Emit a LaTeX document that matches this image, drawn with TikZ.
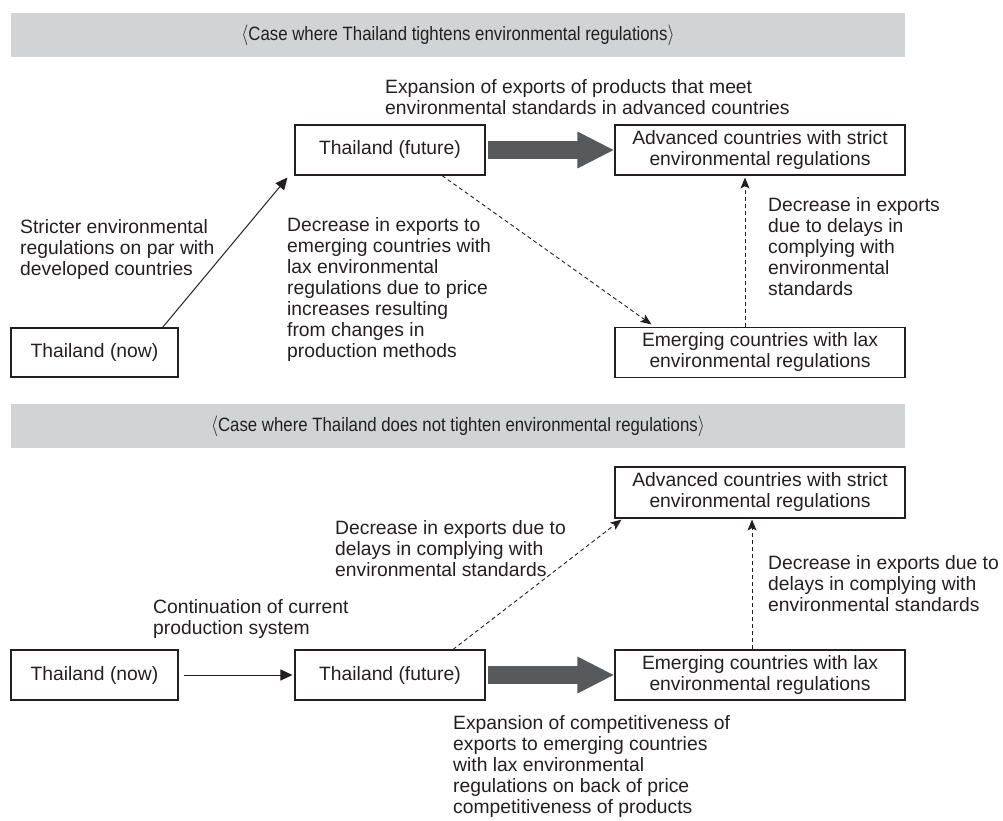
\documentclass[tikz,border=0pt]{standalone}
\usepackage{graphicx}
\usepackage{fontspec}
\setmainfont{Liberation Sans}
\usetikzlibrary{arrows.meta,calc}
\definecolor{txt}{HTML}{231F20}
\definecolor{hdr}{HTML}{D1D3D4}
\definecolor{thk}{HTML}{58595B}
\newcommand{\fs}{\fontsize{19.3}{21}\selectfont}
\newcommand{\hdrtext}[1]{\scalebox{0.87}[1]{$\langle$#1$\rangle$}}
\tikzset{
 box/.style={draw=txt, line width=1.1pt, minimum height=50pt, inner sep=0pt, align=center, text=txt, font=\fs},
 hdrbar/.style={fill=hdr, minimum width=894pt, minimum height=44pt, inner sep=0pt, text=txt, font=\fs},
 lbl/.style={anchor=north west, align=left, inner sep=0pt, text=txt, font=\fs},
 thickarrow/.style={draw=thk, line width=18pt, -{Triangle[length=37pt,width=34pt]}, shorten <=2pt},
 solidarrow/.style={draw=txt, line width=1pt, -{Triangle[length=12pt,width=11pt]}},
 dasharrow/.style={draw=txt, line width=0.9pt, dash pattern=on 4pt off 3pt, -{Stealth[length=11pt,width=9pt,inset=2.5pt]}},
}
\begin{document}
\begin{tikzpicture}[x=1pt,y=-1pt]
\useasboundingbox (0,0) rectangle (1003,821);
% headers
\node[hdrbar] (h1) at (458,35) {\hdrtext{Case where Thailand tightens environmental regulations}};
\node[hdrbar] (h2) at (458,426) {\hdrtext{Case where Thailand does not tighten environmental regulations}};
% top boxes
\node[box, minimum width=167pt, minimum height=49pt] (tnow1) at (94.5,352.5) {Thailand (now)};
\node[box, minimum width=190pt] (tfut1) at (390,150) {Thailand (future)};
\node[box, minimum width=290pt] (adv1) at (760,150) {Advanced countries with strict\\environmental regulations};
\node[box, minimum width=290pt] (emg1) at (760,352.5) {Emerging countries with lax\\environmental regulations};
% bottom boxes
\node[box, minimum width=290pt, minimum height=51pt] (adv2) at (760,492.5) {Advanced countries with strict\\environmental regulations};
\node[box, minimum width=167pt] (tnow2) at (94.5,675) {Thailand (now)};
\node[box, minimum width=190pt] (tfut2) at (390,675) {Thailand (future)};
\node[box, minimum width=290pt] (emg2) at (760,675) {Emerging countries with lax\\environmental regulations};
% labels top
\node[lbl] (lexp1) at (385,78.3) {\strut Expansion of exports of products that meet\\environmental standards in advanced countries};
\node[lbl] (lstr) at (20,218.3) {\strut Stricter environmental\\regulations on par with\\developed countries};
\node[lbl] (ldec1) at (287,216.3) {\strut Decrease in exports to\\emerging countries with\\lax environmental\\regulations due to price\\increases resulting\\from changes in\\production methods};
\node[lbl] (ldec2) at (768,196.3) {\strut Decrease in exports\\due to delays in\\complying with\\environmental\\standards};
% labels bottom
\node[lbl] (ldec3) at (335,519.3) {\strut Decrease in exports due to\\delays in complying with\\environmental standards};
\node[lbl] (ldec4) at (768,554.3) {\strut Decrease in exports due to\\delays in complying with\\environmental standards};
\node[lbl] (lcont) at (153,598.3) {\strut Continuation of current\\production system};
\node[lbl] (lexp2) at (453,714.3) {\strut Expansion of competitiveness of\\exports to emerging countries\\with lax environmental\\regulations on back of price\\competitiveness of products};
% top connectors
\draw[thickarrow] (tfut1.east) -- (adv1.west);
\draw[solidarrow] ($(tnow1.north east)+(-16,0)$) -- ($(tfut1.south west)+(-7,2)$);
\draw[dasharrow] ($(tfut1.south)+(52,0)$) -- ($(emg1.north west)+(37,-2.5)$);
\draw[dasharrow] ($(emg1.north)+(-15,0)$) -- ($(adv1.south)+(-15,2)$);
% bottom connectors
\draw[solidarrow] ($(tnow2.east)+(5,0)$) -- ($(tfut2.west)+(-2,0)$);
\draw[thickarrow] (tfut2.east) -- (emg2.west);
\draw[dasharrow] ($(tfut2.north)+(63,0)$) -- ($(adv2.south west)+(7,1)$);
\draw[dasharrow] ($(emg2.north)+(-8,0)$) -- ($(adv2.south)+(-8,1)$);
\end{tikzpicture}
\end{document}
